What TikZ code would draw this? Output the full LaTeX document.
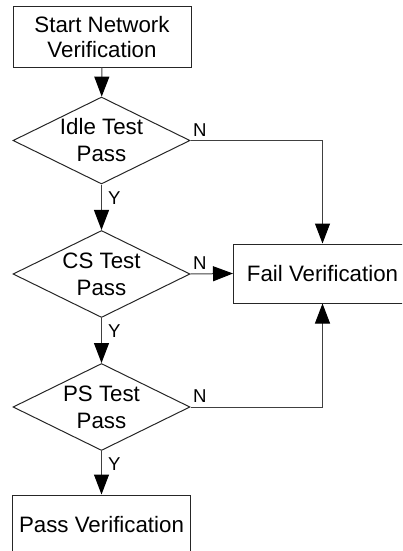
\documentclass[tikz,border=0pt]{standalone}
\usepackage{fontspec}
\setmainfont{Liberation Sans}
\usetikzlibrary{shapes.geometric,arrows.meta}

\begin{document}
\begin{tikzpicture}[x=1pt,y=1pt,
    box/.style={draw=black!85, line width=1pt, rectangle, minimum width=178pt, minimum height=60pt, align=center, font=\fontsize{22.3}{25}\selectfont},
    check/.style={draw=black!85, line width=1pt, diamond, aspect=2, inner sep=-4pt, minimum width=177pt, minimum height=87pt, align=center, font=\fontsize{22.3}{27}\selectfont},
    lbl/.style={font=\fontsize{18.6}{20}\selectfont, inner sep=2pt},
    arrow/.style={-{Triangle[length=20pt,width=15pt,color=black,fill=black]}, line width=1pt, draw=black!75}
]
\useasboundingbox (0,0) rectangle (402,-551);
\clip (0,0) rectangle (402,-551);

% Main column
\node[box] (start) at (102,-37) {Start Network\\Verification};
\node[check] (idle) at (101.5,-140.5) {Idle Test\\Pass};
\node[check] (cs) at (101.5,-274) {CS Test\\Pass};
\node[check] (ps) at (101.5,-407) {PS Test\\Pass};
\node[box] (pass) at (101.5,-525) {Pass Verification};

% Failure box
\node[box, minimum height=59pt] (fail) at (322.5,-273.5) {Fail Verification};

% Arrows
\draw[arrow] (start) -- (idle);
\draw[arrow] (idle) -- node[lbl, pos=0.3, right=4pt] {Y} (cs);
\draw[arrow] (cs) -- node[lbl, pos=0.3, right=4pt] {Y} (ps);
\draw[arrow] (ps) -- node[lbl, pos=0.3, right=4pt] {Y} (pass);
\draw[arrow] (idle.east) -| node[lbl, at start, above right, yshift=2pt] {N} (fail.north);
\draw[arrow] (cs.east) -- node[lbl, at start, above right, yshift=2pt] {N} (fail.west);
\draw[arrow] (ps.east) -| node[lbl, at start, above right, yshift=2pt] {N} (fail.south);

\end{tikzpicture}
\end{document}
